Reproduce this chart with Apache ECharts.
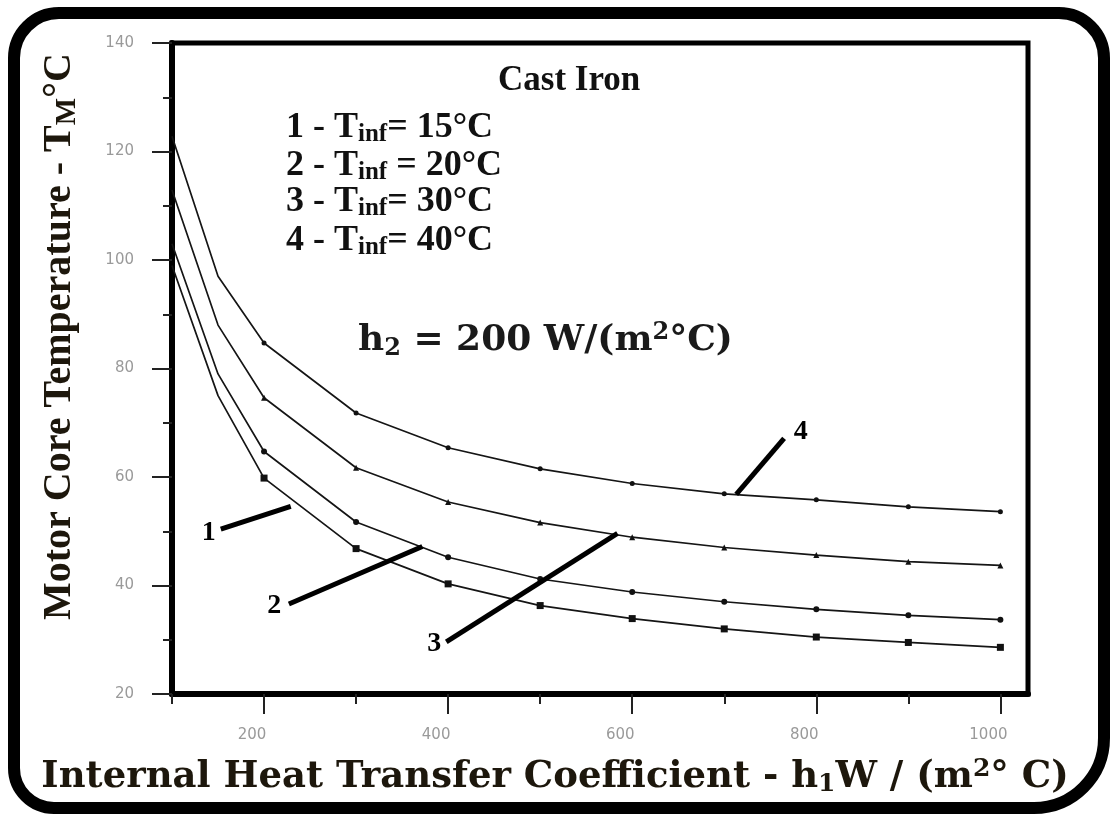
<!DOCTYPE html>
<html><head><meta charset="utf-8">
<script src="https://cdn.jsdelivr.net/npm/echarts@6/dist/echarts.min.js"></script>
<style>html,body{margin:0;padding:0;background:#fff}#c{width:1110px;height:815px}</style>
</head><body><div id="c"></div>
<script>
// ---- data ----
const hValues = [100, 150, 200, 300, 400, 500, 600, 700, 800, 900, 1000];
const tInf15 = [99.0, 75.0, 59.8, 46.8, 40.3, 36.3, 33.9, 32.0, 30.5, 29.5, 28.6];
const tInf20 = [103.0, 79.0, 64.7, 51.7, 45.2, 41.2, 38.8, 37.0, 35.6, 34.5, 33.7];
const tInf30 = [112.9, 88.0, 74.6, 61.7, 55.4, 51.6, 48.9, 47.0, 45.6, 44.4, 43.7];
const tInf40 = [122.8, 97.0, 84.7, 71.8, 65.4, 61.5, 58.8, 56.9, 55.8, 54.5, 53.6];
const xMajorTicks = [200, 400, 600, 800, 1000];
const xMinorTicks = [100, 300, 500, 700, 900];
const legendLines = [
  '1 - T{sub|inf}= 15°C',
  '2 - T{sub|inf} = 20°C',
  '3 - T{sub|inf}= 30°C',
  '4 - T{sub|inf}= 40°C'
];
const calloutNames = ['1', '2', '3', '4'];
const calloutFrom = [[153, 50.4], [227, 36.6], [398, 29.6], [713, 56.8]];
const calloutTo = [[229, 54.6], [372, 47.2], [584, 49.6], [765, 67.1]];
const calloutText = [[140, 49.8], [211, 36.2], [385, 29.2], [783, 68.4]];

// ---- chart ----
const chart = echarts.init(document.getElementById('c'), null, {renderer: 'canvas'});
const serif = 'Liberation Serif';
const wideSerif = 'DejaVu Serif';
const seriesDefs = [
  {name: 'T15', vals: tInf15, symbol: 'rect', size: 7},
  {name: 'T20', vals: tInf20, symbol: 'circle', size: 6},
  {name: 'T30', vals: tInf30, symbol: 'triangle', size: 6},
  {name: 'T40', vals: tInf40, symbol: 'circle', size: 5}
];
const series = seriesDefs.map(d => ({
  type: 'line',
  name: d.name,
  data: hValues.map((h, i) => [h, d.vals[i]]),
  smooth: false,
  symbol: d.symbol,
  symbolSize: (v) => v[0] >= 200 ? d.size : 0,
  showAllSymbol: true,
  lineStyle: {color: '#151515', width: 1.7},
  itemStyle: {color: '#111'},
  z: 3
}));
calloutFrom.forEach((p, i) => {
  series.push({
    type: 'line', data: [p, calloutTo[i]], symbol: 'none',
    lineStyle: {color: '#000', width: 5}, z: 4, silent: true
  });
});
series.push({
  type: 'scatter',
  data: calloutText.map((p, i) => ({value: p, name: calloutNames[i]})),
  symbolSize: 1,
  itemStyle: {color: '#fff', opacity: 1},
  label: {show: true, position: 'inside', formatter: '{b}', fontFamily: serif, fontWeight: 'bold', fontSize: 28,
    color: '#000', textBorderWidth: 0, opacity: 1},
  emphasis: {disabled: true},
  z: 5
});

const subStyle = {fontFamily: serif, fontWeight: 'bold', fontSize: 25, color: '#111', verticalAlign: 'bottom', lineHeight: 16};
const titles = [
  {text: 'Cast Iron', left: 493, top: 58,
   textStyle: {fontFamily: serif, fontWeight: 'bold', fontSize: 35, color: '#111'}}
];
legendLines.forEach((t, i) => {
  titles.push({
    text: t, left: 281, top: [104, 142, 178, 217][i],
    textStyle: {fontFamily: serif, fontWeight: 'bold', fontSize: 36, color: '#111', lineHeight: 38,
      rich: {sub: subStyle}}
  });
});
titles.push({
  text: 'h{sub|2} = 200 W/(m{sup|2}°C)', left: 353, top: 316,
  textStyle: {fontFamily: wideSerif, fontWeight: 'bold', fontSize: 36, color: '#1a1a1a', lineHeight: 40,
    rich: {
      sub: {fontFamily: wideSerif, fontWeight: 'bold', fontSize: 24, color: '#1a1a1a', verticalAlign: 'bottom', lineHeight: 16},
      sup: {fontFamily: wideSerif, fontWeight: 'bold', fontSize: 24, color: '#1a1a1a', verticalAlign: 'top', lineHeight: 20}
    }}
});

const option = {
  backgroundColor: '#fff',
  animation: false,
  title: titles,
  grid: {left: 172, right: 82, top: 43, bottom: 121, outerBoundsMode: 'none', containLabel: false,
    show: true, borderColor: '#000', borderWidth: 5, backgroundColor: '#fff'},
  xAxis: [{
    type: 'value', min: 100, max: 1030,
    axisLine: {lineStyle: {color: '#000', width: 6}},
    axisTick: {customValues: xMajorTicks, length: 20, lineStyle: {color: '#222', width: 2}},
    axisLabel: {customValues: xMajorTicks, margin: 34, color: '#9a9a9a', fontFamily: 'DejaVu Sans', fontSize: 15,
      padding: [0, 24, 0, 0], formatter: (v) => String(v)},
    splitLine: {show: false},
    name: 'Internal Heat Transfer Coefficient - h{sub|1}W / (m{sup|2}° C)',
    nameLocation: 'middle', nameGap: 63,
    nameTextStyle: {fontFamily: wideSerif, fontWeight: 'bold', fontSize: 37, color: '#1d170c', padding: [0, 90, 0, 0], lineHeight: 40,
      rich: {
        sub: {fontFamily: wideSerif, fontWeight: 'bold', fontSize: 25, color: '#1d170c', verticalAlign: 'bottom', lineHeight: 14},
        sup: {fontFamily: wideSerif, fontWeight: 'bold', fontSize: 25, color: '#1d170c', verticalAlign: 'top', lineHeight: 18}
      }}
  }, {
    type: 'value', min: 100, max: 1030, position: 'bottom',
    axisLine: {show: false},
    axisTick: {customValues: xMinorTicks, length: 10, lineStyle: {color: '#222', width: 2}},
    axisLabel: {show: false},
    splitLine: {show: false}
  }],
  yAxis: {
    type: 'value', min: 20, max: 140, interval: 20,
    axisLine: {lineStyle: {color: '#000', width: 6}},
    axisTick: {length: 20, lineStyle: {color: '#222', width: 2}},
    minorTick: {show: true, splitNumber: 2, length: 9, lineStyle: {color: '#222', width: 2}},
    axisLabel: {margin: 38, color: '#9a9a9a', fontFamily: 'DejaVu Sans', fontSize: 15},
    splitLine: {show: false},
    name: 'Motor Core Temperature - T{m|M}°C',
    nameLocation: 'middle', nameRotate: 90, nameGap: 90,
    nameTextStyle: {fontFamily: serif, fontWeight: 'bold', fontSize: 40, color: '#1d170c', lineHeight: 44, padding: [0, 0, 0, 64],
      rich: {m: {fontFamily: serif, fontWeight: 'bold', fontSize: 29, color: '#1d170c', verticalAlign: 'bottom', lineHeight: 36}}}
  },
  graphic: [{
    type: 'rect', shape: {x: 14, y: 13, width: 1090, height: 795, r: [45, 45, 70, 40]},
    style: {fill: 'none', stroke: '#000', lineWidth: 12}, silent: true
  }],
  series: series
};
chart.setOption(option);
</script>
</body></html>
